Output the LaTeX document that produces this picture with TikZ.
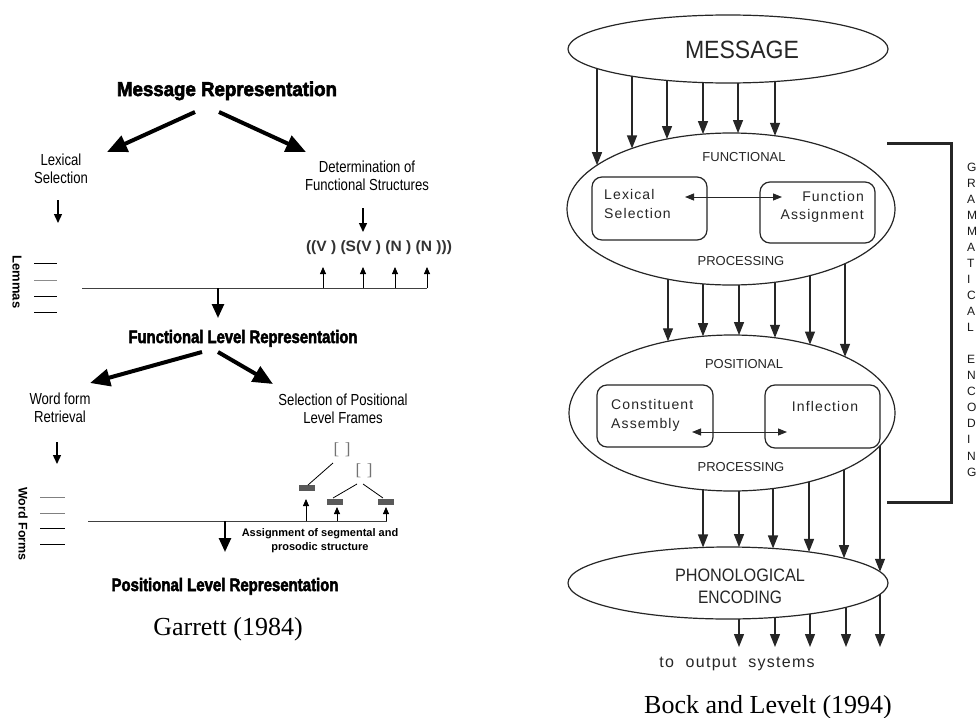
\documentclass[tikz,border=0pt]{standalone}
\usepackage{fontspec}
\usepackage{graphicx}
\setmainfont{Liberation Serif}
\setsansfont{Liberation Sans}
\newfontfamily\heavy[FakeBold=3]{Liberation Sans Bold}
\newfontfamily\narrow[FakeStretch=0.82]{Liberation Sans}
\newfontfamily\spaced[LetterSpace=8]{Liberation Sans}
\usetikzlibrary{arrows.meta,shapes.geometric}
\newsavebox\fitbox
\newcommand\hfit[2]{\sbox\fitbox{#2}\pgfmathsetmacro\fitr{#1/\the\wd\fitbox}\scalebox{\fitr}[1]{\usebox\fitbox}}
\begin{document}
\begin{tikzpicture}[x=1pt,y=-1pt,
  gtitle/.style={inner sep=0, font=\heavy\fontsize{20}{24}\selectfont},
  gtitlesm/.style={inner sep=0, font=\heavy\fontsize{18}{22}\selectfont},
  glabel/.style={inner sep=0, align=center, font=\narrow\fontsize{16}{18.5}\selectfont},
  vlabel/.style={inner sep=0, rotate=-90, font=\sffamily\bfseries\fontsize{13}{13}\selectfont},
  bigarr/.style={line width=4pt, -{Triangle[length=20pt,width=17pt]}},
  midarr/.style={line width=2.5pt, -{Triangle[length=14pt,width=12pt]}},
  smallarr/.style={line width=1.4pt, -{Triangle[length=9pt,width=8pt]}},
  uparr/.style={line width=0.8pt, -{Triangle[length=7pt,width=6pt]}},
  hline/.style={line width=1pt, draw=black!75},
  tick/.style={line width=0.8pt},
  blob/.style={fill=black!65, minimum width=16pt, minimum height=6pt, inner sep=0},
  brk/.style={inner sep=0, text=black!55, font=\fontsize{17}{17}\selectfont},
  ell/.style={ellipse, draw=black!85, line width=1.2pt, inner sep=0, outer sep=0},
  bbox/.style={draw=black!85, line width=1.2pt, rounded corners=10pt, inner sep=0, outer sep=0},
  btxt/.style={inner sep=0, text=black!85, font=\spaced\fontsize{14}{18.5}\selectfont},
  caps/.style={inner sep=0, text=black!85, font=\sffamily\fontsize{13}{15}\selectfont},
  flow/.style={line width=1.3pt, draw=black!85, -{Triangle[length=13pt,width=10pt]}},
  dbl/.style={line width=0.9pt, draw=black!85, {Triangle[length=9pt,width=7pt]}-{Triangle[length=9pt,width=7pt]}},
  gl/.style={inner sep=0, anchor=west, text=black!90, font=\sffamily\fontsize{12}{12}\selectfont},
  cite/.style={inner sep=0, font=\fontsize{26}{30}\selectfont}
]
\useasboundingbox (0,0) rectangle (979,717);
\fill[white] (0,0) rectangle (979,717);

% ================= Garrett (1984) =================
\node[gtitle, anchor=base] (mr) at (227,96) {\hfit{220}{Message Representation}};
\node[glabel] (lex) at (61,169) {Lexical\\Selection};
\node[glabel] (det) at (367,176) {Determination of\\Functional Structures};
\coordinate (mrA) at (195,112); \coordinate (mrB) at (219,112);
\coordinate (lexT) at (107,152); \coordinate (detT) at (306,152);
\draw[bigarr] (mrA) -- (lexT);
\draw[bigarr] (mrB) -- (detT);
\coordinate (lexD1) at (58,200); \coordinate (lexD2) at (58,223);
\draw[smallarr] (lexD1) -- (lexD2);
\coordinate (detD1) at (363,208); \coordinate (detD2) at (363,232);
\draw[smallarr] (detD1) -- (detD2);
\node[inner sep=0, text=black!80, font=\sffamily\bfseries\fontsize{15}{15}\selectfont] (fs) at (379,248) {\hfit{146}{((V ) (S(V ) (N ) (N )))}};
\node[vlabel] (lem) at (17,282) {Lemmas};
\foreach \y/\c [count=\k] in {263/black,280/black!45,296/black,312/black}
  {\coordinate (lt\k a) at (34,\y); \coordinate (lt\k b) at (57,\y); \draw[tick,draw=\c] (lt\k a) -- (lt\k b);}
\coordinate (lineA1) at (82,288); \coordinate (lineA2) at (427,288);
\draw[hline] (lineA1) -- (lineA2);
\foreach \x [count=\k] in {323,363,395,427}
  {\coordinate (ua\k) at (\x,288); \coordinate (ut\k) at (\x,267); \draw[uparr] (ua\k) -- (ut\k);}
\coordinate (bdA1) at (218,288); \coordinate (bdA2) at (218,318);
\draw[midarr] (bdA1) -- (bdA2);

\node[gtitlesm, anchor=base] (flr) at (243,343) {\hfit{229}{Functional Level Representation}};
\coordinate (flA) at (202,352); \coordinate (flB) at (218,352);
\coordinate (wfT) at (90,383); \coordinate (spT) at (273,384);
\draw[bigarr] (flA) -- (wfT);
\draw[bigarr] (flB) -- (spT);
\node[glabel] (wfr) at (60,408) {Word form\\Retrieval};
\node[glabel] (spl) at (343,409) {Selection of Positional\\Level Frames};
\coordinate (wfD1) at (57,442); \coordinate (wfD2) at (57,464);
\draw[smallarr] (wfD1) -- (wfD2);
\node[brk] (b1) at (342,450) {[\,\,]};
\node[brk] (b2) at (364,471) {[\,\,]};
\node[blob] (w1) at (307,488) {};
\node[blob] (w2) at (335,502) {};
\node[blob] (w3) at (386,502) {};
\coordinate (t1a) at (333,463); \coordinate (t1b) at (308,485);
\coordinate (t2a) at (357,484); \coordinate (t2b) at (333,498);
\coordinate (t3a) at (363,484); \coordinate (t3b) at (383,498);
\draw[tick] (t1a) -- (t1b); \draw[tick] (t2a) -- (t2b); \draw[tick] (t3a) -- (t3b);
\node[vlabel, font=\sffamily\bfseries\fontsize{12.5}{12.5}\selectfont] (wfm) at (23,524) {Word Forms};
\foreach \y/\c [count=\k] in {497/black!50,513/black!50,528/black,544/black}
  {\coordinate (wt\k a) at (40,\y); \coordinate (wt\k b) at (65,\y); \draw[tick,draw=\c] (wt\k a) -- (wt\k b);}
\coordinate (lineB1) at (88,521); \coordinate (lineB2) at (387,521);
\draw[hline] (lineB1) -- (lineB2);
\foreach \x/\t [count=\k] in {306/499,337/507,386/507}
  {\coordinate (va\k) at (\x,521); \coordinate (vt\k) at (\x,\t); \draw[uparr] (va\k) -- (vt\k);}
\coordinate (bdB1) at (225,521); \coordinate (bdB2) at (225,552);
\draw[midarr] (bdB1) -- (bdB2);
\node[inner sep=0, align=center, font=\sffamily\bfseries\fontsize{11}{14}\selectfont] (asg) at (320,541) {Assignment of segmental and\\prosodic structure};
\node[gtitlesm, anchor=base] (plr) at (225,591) {\hfit{227}{Positional Level Representation}};
\node[cite, anchor=base] (gar) at (228,635) {Garrett (1984)};

% ================= Bock and Levelt (1994) =================
\node[ell, minimum width=320pt, minimum height=68pt] (msgE) at (728,49) {};
\node[inner sep=0, text=black!85, font=\sffamily\fontsize{25}{25}\selectfont] (msgT) at (742,50) {\hfit{114}{MESSAGE}};

\node[ell, minimum width=328pt, minimum height=152pt] (funE) at (731,209) {};
\node[caps] (funT) at (744,157) {FUNCTIONAL};
\node[caps] (funP) at (741,261) {PROCESSING};
\node[bbox, minimum width=115pt, minimum height=63pt] (lexB) at (649.5,208.5) {};
\node[bbox, minimum width=115pt, minimum height=61pt] (fasB) at (817.5,212.5) {};
\node[btxt, align=left, anchor=west] (lexS) at (604,204) {Lexical\\Selection};
\node[btxt, align=right, anchor=east] (fasS) at (864,207) {Function\\Assignment};
\coordinate (dA) at (685,197); \coordinate (dB) at (782,197);
\draw[dbl] (dA) -- (dB);

\node[ell, minimum width=326pt, minimum height=156pt] (posE) at (732,413) {};
\node[caps] (posT) at (744,364) {POSITIONAL};
\node[caps] (posP) at (741,467) {PROCESSING};
\node[bbox, minimum width=116pt, minimum height=62pt] (conB) at (655,416) {};
\node[bbox, minimum width=115pt, minimum height=63pt] (infB) at (822.5,416.5) {};
\node[btxt, align=left, anchor=west] (conS) at (611,415.5) {Constituent\\Assembly};
\node[btxt] (infS) at (825,406) {Inflection};
\coordinate (eA) at (692,432); \coordinate (eB) at (787,432);
\draw[dbl] (eA) -- (eB);

\node[ell, minimum width=320pt, minimum height=72pt] (phoE) at (728,583) {};
\node[inner sep=0, align=center, text=black!85, font=\sffamily\fontsize{18}{22}\selectfont] (phoT) at (740,586) {\hfit{130}{PHONOLOGICAL}\\\hfit{84}{ENCODING}};
\node[inner sep=0, text=black!85, font=\spaced\fontsize{16}{16}\selectfont] (outT) at (737,664) {to\hspace{6pt} output\hspace{6pt} systems};

% flows
\foreach \x [count=\k] in {597,632,667,703,738,775} {
  \pgfmathsetmacro\ya{49+34*sqrt(1-((\x-728)/160)^2)}
  \pgfmathsetmacro\yb{209-76*sqrt(1-((\x-731)/164)^2)}
  \coordinate (ma\k) at (\x,\ya); \coordinate (fa\k) at (\x,\yb);
  \draw[flow] (ma\k) -- (fa\k);
}
\foreach \x [count=\k] in {668,703,739,775,810,845} {
  \pgfmathsetmacro\ya{209+76*sqrt(1-((\x-731)/164)^2)}
  \pgfmathsetmacro\yb{413-78*sqrt(1-((\x-732)/163)^2)}
  \coordinate (fb\k) at (\x,\ya); \coordinate (pa\k) at (\x,\yb);
  \draw[flow] (fb\k) -- (pa\k);
}
\foreach \x [count=\k] in {703,739,773,809,844,880} {
  \pgfmathsetmacro\ya{413+78*sqrt(1-((\x-732)/163)^2)}
  \pgfmathsetmacro\yb{583-36*sqrt(1-((\x-728)/160)^2)}
  \coordinate (pb\k) at (\x,\ya); \coordinate (ha\k) at (\x,\yb);
  \draw[flow] (pb\k) -- (ha\k);
}
\foreach \x [count=\k] in {739,775,810,846,880} {
  \pgfmathsetmacro\ya{583+36*sqrt(1-((\x-728)/160)^2)}
  \coordinate (hb\k) at (\x,\ya); \coordinate (oa\k) at (\x,647);
  \draw[flow] (hb\k) -- (oa\k);
}

% bracket
\coordinate (brA) at (887,143); \coordinate (brB) at (951,143);
\coordinate (brC) at (951,502); \coordinate (brD) at (887,502);
\draw[line width=3pt, draw=black!85] (brA) -- (brB) -- (brC) -- (brD);
\foreach \l/\k in {G/0,R/1,A/2,M/3,M/4,A/5,T/6,I/7,C/8,A/9,L/10,E/12,N/13,C/14,O/15,D/16,I/17,N/18,G/19}
  \node[gl] (g\k) at (967,{167+16.05*\k}) {\l};

\node[cite, anchor=base] (bl) at (768,713) {Bock and Levelt (1994)};
\end{tikzpicture}
\end{document}
